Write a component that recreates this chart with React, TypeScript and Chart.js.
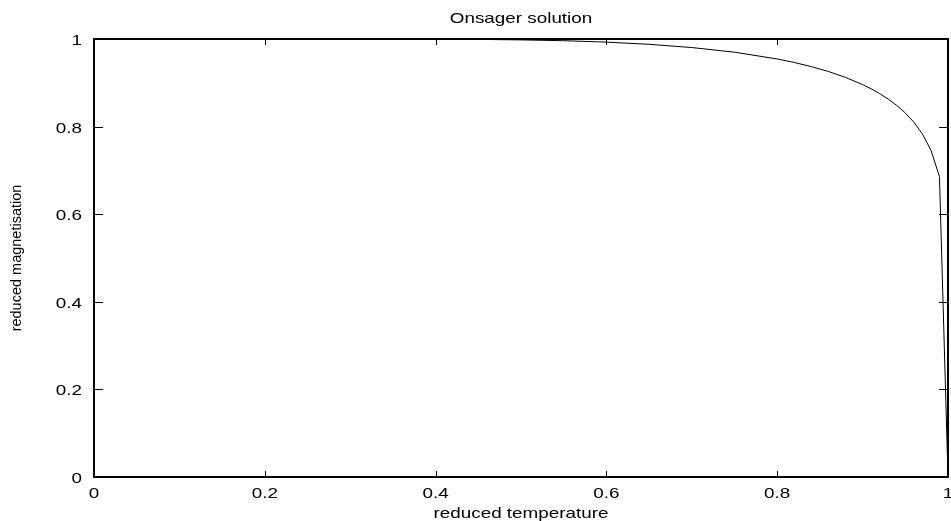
import React, { useEffect, useRef } from "react";
import { Chart, registerables } from "chart.js";

Chart.register(...registerables);

// Reduced temperature T/Tc
const temperature = [
  0, 0.1, 0.2, 0.3, 0.35, 0.4, 0.45, 0.5, 0.55, 0.6, 0.65, 0.7, 0.75, 0.8,
  0.82, 0.84, 0.86, 0.88, 0.9, 0.91, 0.92, 0.93, 0.94, 0.95, 0.96, 0.97, 0.98,
  0.99, 1.0,
];
// Reduced magnetisation M/M0
const magnetisation = [
  1, 1, 1, 1, 0.9999, 0.9997, 0.9991, 0.998, 0.9961, 0.9929, 0.9879, 0.9805,
  0.9699, 0.9544, 0.9464, 0.9369, 0.9258, 0.9123, 0.8959, 0.8863, 0.8753,
  0.8628, 0.8483, 0.8311, 0.8101, 0.7833, 0.7462, 0.6858, 0,
];

const xTickValues = [0, 0.2, 0.4, 0.6, 0.8, 1];
const xTickLabels = ["0", "0.2", "0.4", "0.6", "0.8", "1"];
const yTickValues = [0, 0.2, 0.4, 0.6, 0.8, 1];
const yTickLabels = ["0", "0.2", "0.4", "0.6", "0.8", "1"];

const titleText = "Onsager solution";
const xTitle = "reduced temperature";
const yTitle = "reduced magnetisation";

const FONT = '14.5px "Liberation Sans", Arial, sans-serif';
const STRETCH = 1.3;

const framePlugin = {
  id: "gnuplotFrame",
  afterDraw(chart: any) {
    const ctx = chart.ctx as CanvasRenderingContext2D;
    const { left, right, top, bottom } = chart.chartArea;
    const xs = chart.scales.x;
    const ys = chart.scales.y;
    ctx.save();
    ctx.strokeStyle = "#000";
    ctx.lineWidth = 1;
    // ticks (inward, mirrored)
    ctx.beginPath();
    xTickValues.forEach((v) => {
      const px = Math.round(xs.getPixelForValue(v)) + 0.5;
      ctx.moveTo(px, bottom);
      ctx.lineTo(px, bottom - 6);
      ctx.moveTo(px, top);
      ctx.lineTo(px, top + 6);
    });
    yTickValues.forEach((v) => {
      const py = Math.round(ys.getPixelForValue(v)) + 0.5;
      ctx.moveTo(left, py);
      ctx.lineTo(left + 9, py);
      ctx.moveTo(right, py);
      ctx.lineTo(right - 9, py);
    });
    ctx.stroke();
    // border
    ctx.lineWidth = 2;
    ctx.strokeRect(left, top, right - left, bottom - top);

    ctx.fillStyle = "#000";
    ctx.font = FONT;
    const stretched = (text: string, x: number, y: number, align: CanvasTextAlign, base: CanvasTextBaseline) => {
      ctx.save();
      ctx.translate(x, y);
      ctx.scale(STRETCH, 1);
      ctx.textAlign = align;
      ctx.textBaseline = base;
      ctx.fillText(text, 0, 0);
      ctx.restore();
    };
    xTickValues.forEach((v, i) => {
      stretched(xTickLabels[i], xs.getPixelForValue(v), bottom + 20.5, "center", "alphabetic");
    });
    yTickValues.forEach((v, i) => {
      stretched(yTickLabels[i], left - 12, ys.getPixelForValue(v) + 6, "right", "alphabetic");
    });
    stretched(titleText, (left + right) / 2, 23, "center", "alphabetic");
    stretched(xTitle, (left + right) / 2, 518, "center", "alphabetic");

    ctx.save();
    ctx.translate(20.5, (top + bottom) / 2);
    ctx.rotate(-Math.PI / 2);
    ctx.textAlign = "center";
    ctx.textBaseline = "alphabetic";
    ctx.fillText(yTitle, 0, 0);
    ctx.restore();
    ctx.restore();
  },
};

export default function App() {
  const ref = useRef<HTMLCanvasElement | null>(null);
  useEffect(() => {
    document.body.style.margin = "0";
    const canvas = ref.current!;
    const chart = new Chart(canvas, {
      type: "line",
      data: {
        datasets: [
          {
            data: temperature.map((t, i) => ({ x: t, y: magnetisation[i] })),
            borderColor: "#000",
            borderWidth: 1,
            pointRadius: 0,
            tension: 0,
            fill: false,
          },
        ],
      },
      options: {
        responsive: false,
        animation: false,
        devicePixelRatio: 1,
        layout: { padding: { top: 39, right: 3, left: 0, bottom: 0 } },
        plugins: { legend: { display: false }, title: { display: false }, tooltip: { enabled: false } },
        scales: {
          x: {
            type: "linear",
            min: 0,
            max: 1,
            grid: { display: false },
            border: { display: false },
            ticks: { display: false },
            afterFit: (s: any) => {
              s.height = 44;
            },
          },
          y: {
            type: "linear",
            min: 0,
            max: 1,
            grid: { display: false },
            border: { display: false },
            ticks: { display: false },
            afterFit: (s: any) => {
              s.width = 94;
            },
          },
        },
      },
      plugins: [framePlugin],
    });
    return () => chart.destroy();
  }, []);
  return (
    <div style={{ position: "absolute", left: 0, top: 0, width: 951, height: 521, background: "#fff" }}>
      <canvas ref={ref} width={951} height={521} style={{ display: "block" }} />
    </div>
  );
}
